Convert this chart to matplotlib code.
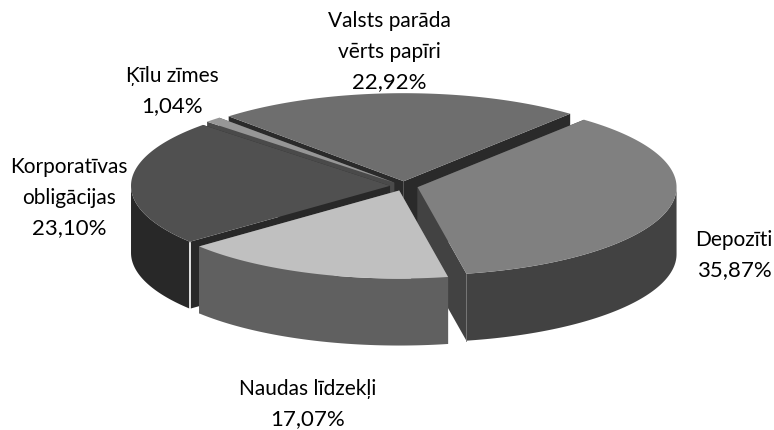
import numpy as np
import matplotlib
matplotlib.use("Agg")
import matplotlib.pyplot as plt

# Share of each category, %, clockwise from the top right
names = ["Depozīti", "Naudas līdzekļi", "Korporatīvas\nobligācijas", "Ķīlu zīmes", "Valsts parāda\nvērts papīri"]
shares = [35.87, 17.07, 23.10, 1.04, 22.92]
share_labels = ["35,87%", "17,07%", "23,10%", "1,04%", "22,92%"]

top_colors = ["#808080", "#c0c0c0", "#505050", "#969696", "#6e6e6e"]
wall_colors = ["#424242", "#606060", "#282828", "#4a4a4a", "#2a2a2a"]

# pie geometry, in pixels
cx, cy = 404, 186
rx, tilt = 259, 0.34
depth = 67
explode = 14
start_angle = 50

# label centres (x, y of first line)
label_pos = [(734, 240), (308, 389), (69, 167), (172, 76), (389, 21)]
line_step = 30.5

plt.rcParams['font.family'] = 'Lato'
fig = plt.figure(figsize=(7.74, 4.30), dpi=100)
ax = fig.add_axes([0, 0, 1, 1])
ax.set_xlim(0, 774)
ax.set_ylim(430, 0)
ax.axis("off")

# slice angles
sweeps = np.array(shares) / 100 * 360
ends = start_angle - np.cumsum(sweeps)
starts = ends + sweeps


def project(x0, y0, ang):
    a = np.radians(ang)
    return x0 + rx * np.cos(a), y0 - rx * tilt * np.sin(a)


# back to front
for i in [4, 3, 2, 0, 1]:
    mid = np.radians((starts[i] + ends[i]) / 2)
    x0 = cx + explode * np.cos(mid)
    y0 = cy - explode * tilt * np.sin(mid)
    ang = np.linspace(starts[i], ends[i], 120)
    xs, ys = project(x0, y0, ang)

    # cut faces
    for k in [0, -1]:
        ax.fill([x0, xs[k], xs[k], x0],
                [y0, ys[k], ys[k] + depth, y0 + depth],
                color=wall_colors[i], lw=0)
    # outer wall, only the front half of the rim shows
    wx, wy = project(x0, y0, np.clip(ang, -180, 0))
    ax.fill(np.r_[wx, wx[::-1]], np.r_[wy, wy[::-1] + depth],
            color=wall_colors[i], lw=0)
    # top
    ax.fill(np.r_[x0, xs], np.r_[y0, ys], color=top_colors[i], lw=0)

    # thin light line on the front corner of the big slices
    if i == 2:
        ax.plot([xs[0], xs[0]], [ys[0] + 1, ys[0] + depth], color="white", lw=1.2)
    if i == 0:
        ax.plot([xs[-1], xs[-1]], [ys[-1] + 1, ys[-1] + depth], color="#777777", lw=0.6)

for i in range(len(names)):
    lines = names[i].split("\n")
    for j, line in enumerate(lines):
        ax.text(label_pos[i][0], label_pos[i][1] + j * line_step, line,
                ha="center", va="center", fontsize=15, color="black")
    ax.text(label_pos[i][0], label_pos[i][1] + len(lines) * line_step, share_labels[i],
            ha="center", va="center", fontsize=16, color="black")

fig.savefig("out.png", dpi=100)
